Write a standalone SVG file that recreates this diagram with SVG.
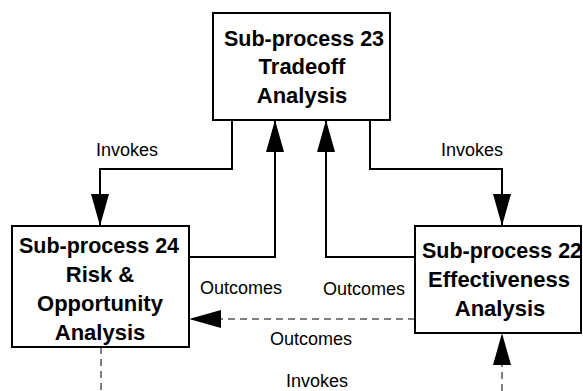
<svg xmlns="http://www.w3.org/2000/svg" width="583" height="391" viewBox="0 0 583 391">
  <defs>
    <marker id="arrow" markerUnits="userSpaceOnUse" markerWidth="32" markerHeight="18" refX="32" refY="9" orient="auto">
      <path d="M0,0 L32,9 L0,18 z" fill="#000"/>
    </marker>
    <style>
      .box { fill: #fff; stroke: #000; stroke-width: 2; }
      .t { font-family: "Liberation Sans", Arial, Helvetica, sans-serif; font-weight: bold; font-size: 22px; text-anchor: middle; fill: #000; }
      .sp { font-size: 21.5px; }
      .lbl { font-family: "Liberation Sans", Arial, Helvetica, sans-serif; font-size: 18px; text-anchor: middle; fill: #000; }
      .c { fill: none; stroke: #000; stroke-width: 2; }
      .d { fill: none; stroke: #000; stroke-width: 1; stroke-dasharray: 7 5; }
    </style>
  </defs>
  <rect width="583" height="391" fill="#fff"/>

  <g id="connectors">
    <path class="c" d="M232 120 V169 H100 V226" marker-end="url(#arrow)"/>
    <path class="c" d="M370 120 V169 H502 V226" marker-end="url(#arrow)"/>
    <path class="c" d="M189 257 H275 V120" marker-end="url(#arrow)"/>
    <path class="c" d="M415 257 H326 V120" marker-end="url(#arrow)"/>
    <path class="d" d="M415 319 H189" marker-end="url(#arrow)"/>
    <path class="d" d="M101 347 V391"/>
    <path class="d" d="M502 391 V333" marker-end="url(#arrow)"/>
    <text class="lbl" x="127" y="156">Invokes</text>
    <text class="lbl" x="472" y="156">Invokes</text>
    <text class="lbl" x="241" y="294">Outcomes</text>
    <text class="lbl" x="364" y="295">Outcomes</text>
    <text class="lbl" x="311" y="345">Outcomes</text>
    <text class="lbl" x="317" y="387">Invokes</text>
  </g>

  <g id="sp23">
    <rect class="box" x="213" y="13" width="177" height="107"/>
    <text class="t sp" x="304" y="46">Sub-process 23</text>
    <text class="t" x="302" y="74">Tradeoff</text>
    <text class="t" x="302" y="103">Analysis</text>
  </g>

  <g id="sp24">
    <rect class="box" x="12" y="226" width="177" height="121"/>
    <text class="t sp" x="99" y="253">Sub-process 24</text>
    <text class="t" x="100" y="282">Risk &amp;</text>
    <text class="t" x="100" y="311">Opportunity</text>
    <text class="t" x="100" y="340">Analysis</text>
  </g>

  <g id="sp22">
    <rect class="box" x="415" y="226" width="166" height="107"/>
    <text class="t sp" x="502" y="258">Sub-process 22</text>
    <text class="t" x="499" y="287">Effectiveness</text>
    <text class="t" x="500" y="316">Analysis</text>
  </g>
</svg>
